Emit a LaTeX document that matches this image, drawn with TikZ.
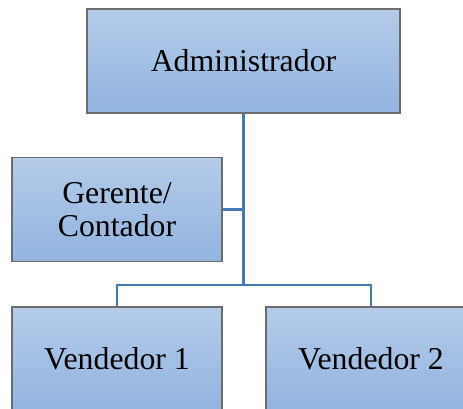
\documentclass[tikz,border=0pt]{standalone}
\usepackage{fontspec}
\setmainfont{Liberation Serif}
\usepackage{tikz}

\begin{document}
\begin{tikzpicture}[x=1pt,y=-1pt,
    cargo/.style={rectangle, draw=gray!85!black, line width=1.1pt,
      top color={rgb,255:red,180;green,203;blue,233},
      bottom color={rgb,255:red,146;green,180;blue,224},
      minimum height=104pt, align=center, inner sep=0pt,
      font=\fontsize{31.8}{33}\selectfont},
    enlace/.style={draw={rgb,255:red,70;green,120;blue,178}, line width=2.2pt}]
    \clip (0,0) rectangle (463,409);
    \node [cargo, minimum width=313pt] (admin) at (243.5,61) {Administrador};
    \node [cargo, minimum width=210pt] (gerente) at (117,209.5) {Gerente/\\Contador};
    \node [cargo, minimum width=210pt] (vend1) at (117,359) {Vendedor 1};
    \node [cargo, minimum width=210pt] (vend2) at (371,359) {Vendedor 2};
    \coordinate (bus) at (243.5,285);
    \draw [enlace] (admin.south) -- (bus);
    \draw [enlace] (gerente.east) -- (gerente.east -| bus);
    \draw [enlace] (vend1.north) |- (bus) -| (vend2.north);
\end{tikzpicture}
\end{document}
